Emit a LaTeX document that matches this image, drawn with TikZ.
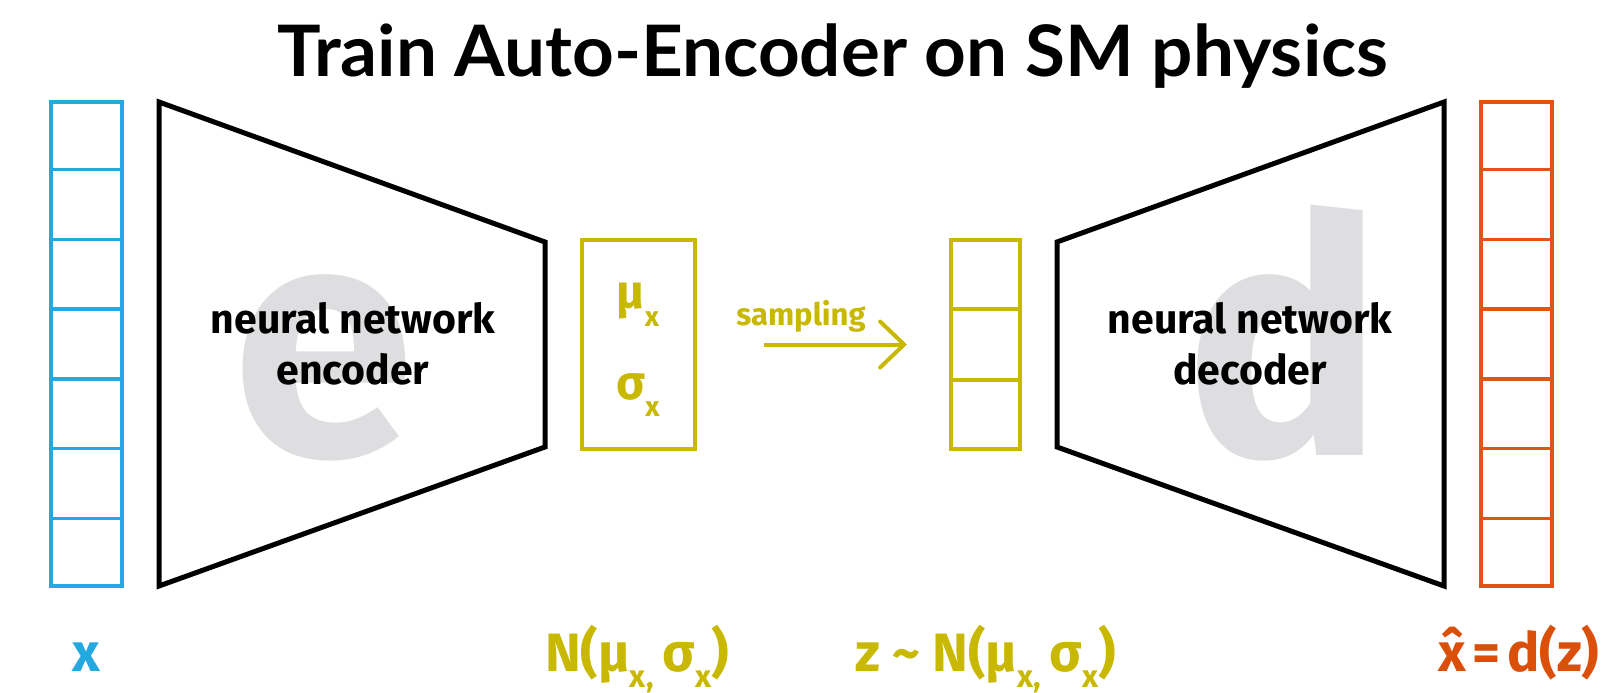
\documentclass[tikz,border=0pt]{standalone}
\usepackage{fontspec}
\setmainfont{Fira Sans}
\newfontfamily\titlefont{Lato}
\usetikzlibrary{arrows.meta,calc}
\definecolor{cblue}{RGB}{35,168,224}
\definecolor{cyel}{RGB}{200,184,0}
\definecolor{corange}{RGB}{226,84,20}
\definecolor{corangetext}{RGB}{218,80,10}
\definecolor{cgrey}{RGB}{222,222,225}
\newcommand\lowsub[1]{\raisebox{-0.3em}{\scalebox{0.58}{#1}}}
\newcommand\gsub[1]{\raisebox{-0.37em}{\scalebox{0.58}{#1}}}
\tikzset{
  colbox/.style={draw=#1, line width=4pt, minimum width=71pt, minimum height=484pt, inner sep=0pt},
  latbox/.style={draw=cyel, line width=4pt, inner sep=0pt},
  divider/.style={draw=#1, line width=3.5pt},
  trap/.style={draw=black, line width=5pt, line join=miter},
  greyletter/.style={text=cgrey, font=\bfseries\fontsize{330}{330}\selectfont, anchor=base, inner sep=0pt},
  nntext/.style={font=\bfseries\fontsize{41}{51}\selectfont, align=center, text=black},
  label/.style={font=\bfseries\fontsize{54}{60}\selectfont, anchor=base, inner sep=0pt},
  greek/.style={font=\bfseries\fontsize{48}{50}\selectfont, text=cyel, inner sep=0pt},
  samp/.style={draw=cyel, line width=4pt, -{Straight Barb[length=24pt,width=46pt,line cap=round]}},
}
\begin{document}
\begin{tikzpicture}[x=1pt,y=-1pt]
\useasboundingbox (0,0) rectangle (1604,693);
\fill[white] (0,0) rectangle (1604,693);

% title
\node[anchor=base, font=\titlefont\bfseries\fontsize{71}{80}\selectfont, inner sep=0pt, xscale=1.025] (title) at (833,77) {Train Auto-Encoder on SM physics};

% input column
\node[colbox=cblue] (xin) at (86.5,344) {};
\foreach \i in {1,...,6}
  \draw[divider=cblue] ($(xin.north west)!\i/7!(xin.south west)$) -- ($(xin.north east)!\i/7!(xin.south east)$);

% encoder
\node[greyletter] (eletter) at (324,455) {e};
\coordinate (e1) at (159,102);
\coordinate (e2) at (545,242);
\coordinate (e3) at (545,447);
\coordinate (e4) at (159,586);
\draw[trap] (e1) -- (e2) -- (e3) -- (e4) -- cycle;
\node[nntext] (enctext) at (353,344) {neural network\\encoder};

% latent distribution box
\node[latbox, minimum width=113pt, minimum height=209pt] (musig) at (638.5,344.5) {};
\node[greek] (mu) at (638,305) {μ\gsub{x}};
\node[greek] (sigma) at (638,395) {σ\gsub{x}};

% sampled latent column
\node[latbox, minimum width=69pt, minimum height=209pt] (zcol) at (985.5,344.5) {};
\foreach \i in {1,2}
  \draw[divider=cyel] ($(zcol.north west)!\i/3!(zcol.south west)$) -- ($(zcol.north east)!\i/3!(zcol.south east)$);

% sampling arrow
\draw[samp, shorten <=67pt, shorten >=42pt] (musig.east) -- (zcol.west);
\node[anchor=base, text=cyel, font=\bfseries\fontsize{31}{34}\selectfont, inner sep=0pt] (samplabel) at (801,325) {sampling};

% decoder
\node[greyletter] (dletter) at (1284,455) {d};
\coordinate (d1) at (1057,242);
\coordinate (d2) at (1444,102);
\coordinate (d3) at (1444,586);
\coordinate (d4) at (1057,447);
\draw[trap] (d1) -- (d2) -- (d3) -- (d4) -- cycle;
\node[nntext] (dectext) at (1250,344) {neural network\\decoder};

% output column
\node[colbox=corange] (xout) at (1516.5,344) {};
\foreach \i in {1,...,6}
  \draw[divider=corange] ($(xout.north west)!\i/7!(xout.south west)$) -- ($(xout.north east)!\i/7!(xout.south east)$);

% bottom labels
\node[label, text=cblue] (lx) at (86,671) {x};
\node[label, text=cyel] (lN) at (637,671) {N(μ\lowsub{x,}\,σ\lowsub{x})};
\node[label, text=cyel] (lz) at (986,671) {z\hspace{0.22em}\textasciitilde\hspace{0.22em}N(μ\lowsub{x,}\,σ\lowsub{x})};
\node[label, text=corangetext] (lxhat) at (1519,671) {x̂\hspace{0.12em}=\hspace{0.12em}d(z)};
\end{tikzpicture}
\end{document}
